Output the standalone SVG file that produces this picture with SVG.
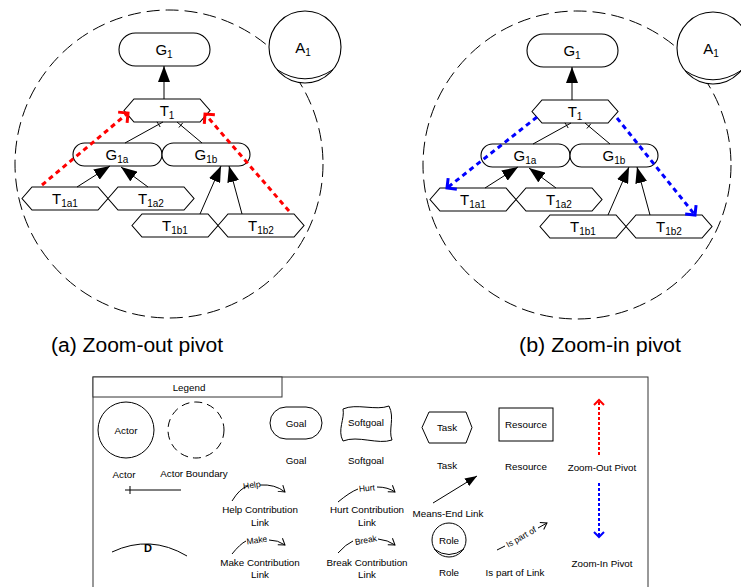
<svg xmlns="http://www.w3.org/2000/svg" width="741" height="587" viewBox="0 0 741 587">
<style>
text{font-family:"Liberation Sans",Arial,sans-serif;fill:#000}
.n{fill:#fff;stroke:#000;stroke-width:1.1}
.nl{font-size:15px;text-anchor:middle}
.sub{font-size:10px}
.bd{fill:none;stroke:#000;stroke-width:1;stroke-dasharray:13 6}
.ln{fill:none;stroke:#000;stroke-width:1}
.me{fill:none;stroke:#000;stroke-width:1;marker-end:url(#tri)}
.red{fill:none;stroke:#f00;stroke-width:3;stroke-dasharray:5 4;marker-end:url(#vr)}
.blue{fill:none;stroke:#00f;stroke-width:3;stroke-dasharray:5 4;marker-end:url(#vb)}
.lg{fill:#fff;stroke:#333;stroke-width:1}
.lt{font-size:9.8px;text-anchor:middle}
.cap{font-size:20px}
</style>
<defs>
<path id="hex" d="M0,11.5 L10,0 L76,0 L86,11.5 L76,23 L10,23 Z"/>
<marker id="tri" markerUnits="userSpaceOnUse" viewBox="0 0 16 12" refX="16" refY="6" markerWidth="16" markerHeight="12" orient="auto"><path d="M0,0 L16,6 L0,12 Z" fill="#000"/></marker>
<marker id="tris" markerUnits="userSpaceOnUse" viewBox="0 0 12 9" refX="12" refY="4.5" markerWidth="12" markerHeight="9" orient="auto"><path d="M0,0 L12,4.5 L0,9 Z" fill="#000"/></marker>
<marker id="vr" markerUnits="userSpaceOnUse" viewBox="-2 -2 12 18" refX="7" refY="7" markerWidth="12" markerHeight="18" orient="auto"><path d="M0,0 L7,7 L0,14" fill="none" stroke="#f00" stroke-width="3"/></marker>
<marker id="vb" markerUnits="userSpaceOnUse" viewBox="-2 -2 12 18" refX="7" refY="7" markerWidth="12" markerHeight="18" orient="auto"><path d="M0,0 L7,7 L0,14" fill="none" stroke="#00f" stroke-width="3"/></marker>
<marker id="vrs" markerUnits="userSpaceOnUse" viewBox="-2 -2 10 14" refX="5" refY="5" markerWidth="10" markerHeight="14" orient="auto"><path d="M0,0 L5,5 L0,10" fill="none" stroke="#f00" stroke-width="2"/></marker>
<marker id="vbs" markerUnits="userSpaceOnUse" viewBox="-2 -2 10 14" refX="5" refY="5" markerWidth="10" markerHeight="14" orient="auto"><path d="M0,0 L5,5 L0,10" fill="none" stroke="#00f" stroke-width="2"/></marker>
<marker id="op" markerUnits="userSpaceOnUse" viewBox="-1 -1 8 10" refX="6" refY="4" markerWidth="8" markerHeight="10" orient="auto"><path d="M0,0 L6,4 L0,8" fill="none" stroke="#000" stroke-width="1"/></marker>
</defs>
<rect width="741" height="587" fill="#fff"/>

<!-- (a) Zoom-out pivot -->
<g id="diagram-a">
<circle id="a-boundary" class="bd" cx="169" cy="164" r="154"/>
<g id="a-A1"><circle class="n" cx="305" cy="47" r="36"/><path class="ln" d="M277,69.6 Q305,88 333,69.6"/><text class="nl" x="303" y="53">A<tspan class="sub" dy="3">1</tspan></text></g>
<g id="a-G1"><rect class="n" x="119" y="33" width="91" height="33" rx="16.5"/><text class="nl" x="164" y="55">G<tspan class="sub" dy="3">1</tspan></text></g>
<g id="a-T1"><use href="#hex" class="n" transform="translate(124,99)"/><text class="nl" x="167" y="116">T<tspan class="sub" dy="3">1</tspan></text></g>
<g id="a-G1a"><rect class="n" x="73" y="143" width="89" height="23" rx="11.5"/><text class="nl" x="117" y="160">G<tspan class="sub" dy="3">1a</tspan></text></g>
<g id="a-G1b"><rect class="n" x="162" y="143" width="88" height="23" rx="11.5"/><text class="nl" x="206" y="160">G<tspan class="sub" dy="3">1b</tspan></text></g>
<g id="a-T1a1"><use href="#hex" class="n" transform="translate(22,187)"/><text class="nl" x="65" y="204">T<tspan class="sub" dy="3">1a1</tspan></text></g>
<g id="a-T1a2"><use href="#hex" class="n" transform="translate(108,187)"/><text class="nl" x="151" y="204">T<tspan class="sub" dy="3">1a2</tspan></text></g>
<g id="a-T1b1"><use href="#hex" class="n" transform="translate(132,214)"/><text class="nl" x="175" y="231">T<tspan class="sub" dy="3">1b1</tspan></text></g>
<g id="a-T1b2"><use href="#hex" class="n" transform="translate(218,214)"/><text class="nl" x="261" y="231">T<tspan class="sub" dy="3">1b2</tspan></text></g>
<g id="a-connectors">
<line class="me" x1="164" y1="99" x2="164" y2="66"/>
<line class="ln" x1="163" y1="122" x2="125" y2="143"/>
<line class="ln" x1="157" y1="121.8" x2="160.2" y2="127"/>
<line class="ln" x1="177" y1="122" x2="202" y2="143"/>
<line class="ln" x1="182.7" y1="122.9" x2="178.9" y2="127.5"/>
<line class="me" x1="77" y1="187" x2="110" y2="166"/>
<line class="me" x1="148" y1="187" x2="121" y2="167"/>
<line class="me" x1="200" y1="214" x2="221" y2="166"/>
<line class="me" x1="242" y1="214" x2="229" y2="166"/>
<line class="red" x1="42" y1="185" x2="128" y2="113"/>
<line class="red" x1="289" y1="211" x2="205" y2="114"/>
</g>
<text class="cap" x="51" y="352" textLength="172" lengthAdjust="spacingAndGlyphs">(a) Zoom-out pivot</text>
</g>

<!-- (b) Zoom-in pivot -->
<g id="diagram-b">
<g transform="translate(408,1)">
<circle id="b-boundary" class="bd" cx="169" cy="164" r="154"/>
<g id="b-A1"><circle class="n" cx="305" cy="47" r="36"/><path class="ln" d="M277,69.6 Q305,88 333,69.6"/><text class="nl" x="303" y="53">A<tspan class="sub" dy="3">1</tspan></text></g>
<g id="b-G1"><rect class="n" x="119" y="33" width="91" height="33" rx="16.5"/><text class="nl" x="164" y="55">G<tspan class="sub" dy="3">1</tspan></text></g>
<g id="b-T1"><use href="#hex" class="n" transform="translate(124,99)"/><text class="nl" x="167" y="116">T<tspan class="sub" dy="3">1</tspan></text></g>
<g id="b-G1a"><rect class="n" x="73" y="143" width="89" height="23" rx="11.5"/><text class="nl" x="117" y="160">G<tspan class="sub" dy="3">1a</tspan></text></g>
<g id="b-G1b"><rect class="n" x="162" y="143" width="88" height="23" rx="11.5"/><text class="nl" x="206" y="160">G<tspan class="sub" dy="3">1b</tspan></text></g>
<g id="b-T1a1"><use href="#hex" class="n" transform="translate(22,187)"/><text class="nl" x="65" y="204">T<tspan class="sub" dy="3">1a1</tspan></text></g>
<g id="b-T1a2"><use href="#hex" class="n" transform="translate(108,187)"/><text class="nl" x="151" y="204">T<tspan class="sub" dy="3">1a2</tspan></text></g>
<g id="b-T1b1"><use href="#hex" class="n" transform="translate(132,214)"/><text class="nl" x="175" y="231">T<tspan class="sub" dy="3">1b1</tspan></text></g>
<g id="b-T1b2"><use href="#hex" class="n" transform="translate(218,214)"/><text class="nl" x="261" y="231">T<tspan class="sub" dy="3">1b2</tspan></text></g>
<g id="b-connectors">
<line class="me" x1="164" y1="99" x2="164" y2="66"/>
<line class="ln" x1="163" y1="122" x2="125" y2="143"/>
<line class="ln" x1="157" y1="121.8" x2="160.2" y2="127"/>
<line class="ln" x1="177" y1="122" x2="202" y2="143"/>
<line class="ln" x1="182.7" y1="122.9" x2="178.9" y2="127.5"/>
<line class="me" x1="77" y1="187" x2="110" y2="166"/>
<line class="me" x1="148" y1="187" x2="121" y2="167"/>
<line class="me" x1="200" y1="214" x2="221" y2="166"/>
<line class="me" x1="242" y1="214" x2="229" y2="166"/>
<line class="blue" x1="129" y1="116" x2="39" y2="187"/>
<line class="blue" x1="209" y1="117" x2="287" y2="214"/>
</g>
</g>
<text class="cap" x="519" y="352" textLength="162" lengthAdjust="spacingAndGlyphs">(b) Zoom-in pivot</text>
</g>

<!-- Legend -->
<g id="legend">
<rect class="lg" x="93" y="377" width="555" height="230"/>
<g id="legend-title"><rect class="lg" x="93" y="377" width="189" height="20"/><text class="lt" x="189" y="391">Legend</text></g>
<g id="lg-actor"><circle class="ln" cx="126" cy="430" r="28"/><text class="lt" x="126" y="434">Actor</text><text class="lt" x="124" y="478">Actor</text></g>
<g id="lg-boundary"><circle class="ln" cx="196" cy="430" r="28" stroke-dasharray="8 5"/><text class="lt" x="194" y="477">Actor Boundary</text></g>
<g id="lg-goal"><rect class="ln" x="270" y="407" width="52" height="32" rx="16"/><text class="lt" x="296" y="427">Goal</text><text class="lt" x="296" y="464">Goal</text></g>
<g id="lg-softgoal"><path class="ln" d="M343,409 C356,403 376,411 389,406 C395,418 388,430 392,440 C378,445 358,435 343,441 C337,430 345,419 343,409 Z"/><text class="lt" x="366" y="426">Softgoal</text><text class="lt" x="366" y="464">Softgoal</text></g>
<g id="lg-task"><path class="ln" d="M422,427.5 L429,412 L466,412 L472,427.5 L466,443 L429,443 Z"/><text class="lt" x="447" y="431">Task</text><text class="lt" x="447" y="469">Task</text></g>
<g id="lg-resource"><rect class="ln" x="499" y="408" width="54" height="33"/><text class="lt" x="526" y="428">Resource</text><text class="lt" x="526" y="470">Resource</text></g>
<g id="lg-zoomout"><line x1="599" y1="455" x2="599" y2="400" stroke="#f00" stroke-width="2" stroke-dasharray="3 2" marker-end="url(#vrs)"/><text class="lt" x="602" y="471">Zoom-Out Pivot</text></g>
<g id="lg-zoomin"><line x1="599" y1="483" x2="599" y2="537" stroke="#00f" stroke-width="2" stroke-dasharray="3 2" marker-end="url(#vbs)"/><text class="lt" x="602" y="567">Zoom-In Pivot</text></g>
<g id="lg-decomp"><line class="ln" x1="125" y1="490" x2="181" y2="490"/><line class="ln" x1="130" y1="486" x2="130" y2="494"/></g>
<g id="lg-help"><path class="ln" d="M232,501 Q240,488 248,486 M260,485 Q275,484 285,492" marker-end="url(#op)"/><text x="252" y="488" font-size="8.5px" text-anchor="middle" transform="rotate(-8 252 486)">Help</text><text class="lt" x="260" y="513">Help Contribution</text><text class="lt" x="260" y="526">Link</text></g>
<g id="lg-hurt"><path class="ln" d="M338,502 Q350,492 358,489 M377,487 Q388,487 395,492" marker-end="url(#op)"/><text x="367" y="491" font-size="8.5px" text-anchor="middle" transform="rotate(-6 367 489)">Hurt</text><text class="lt" x="367" y="513">Hurt Contribution</text><text class="lt" x="367" y="526">Link</text></g>
<g id="lg-dep"><path class="ln" d="M112,552 Q150,534 187,556"/><text x="148" y="552" font-size="11px" font-weight="bold" text-anchor="middle">D</text></g>
<g id="lg-make"><path class="ln" d="M232,554 Q240,544 246,541 M269,540 Q278,540 285,545" marker-end="url(#op)"/><text x="257" y="543" font-size="8.5px" text-anchor="middle" transform="rotate(-8 257 541)">Make</text><text class="lt" x="260" y="566">Make Contribution</text><text class="lt" x="260" y="578">Link</text></g>
<g id="lg-break"><path class="ln" d="M338,553 Q346,544 353,541 M378,539 Q388,540 395,545" marker-end="url(#op)"/><text x="366" y="543" font-size="8.5px" text-anchor="middle" transform="rotate(-10 366 541)">Break</text><text class="lt" x="367" y="566">Break Contribution</text><text class="lt" x="367" y="578">Link</text></g>
<g id="lg-meansend"><line x1="433" y1="503" x2="477" y2="476" stroke="#000" stroke-width="1" marker-end="url(#tris)"/><text class="lt" x="448" y="517">Means-End Link</text></g>
<g id="lg-role"><circle class="ln" cx="449" cy="540" r="17"/><path class="ln" d="M434,549 Q449,560 464,549"/><text class="lt" x="449" y="544">Role</text><text class="lt" x="449" y="576">Role</text></g>
<g id="lg-ispartof"><path class="ln" d="M497,550 L505,546"/><path class="ln" d="M538,528 L547,523" marker-end="url(#op)"/><text x="521" y="540" font-size="8.5px" text-anchor="middle" transform="rotate(-30 521 537)">Is part of</text><text class="lt" x="515" y="576">Is part of Link</text></g>
</g>
</svg>
